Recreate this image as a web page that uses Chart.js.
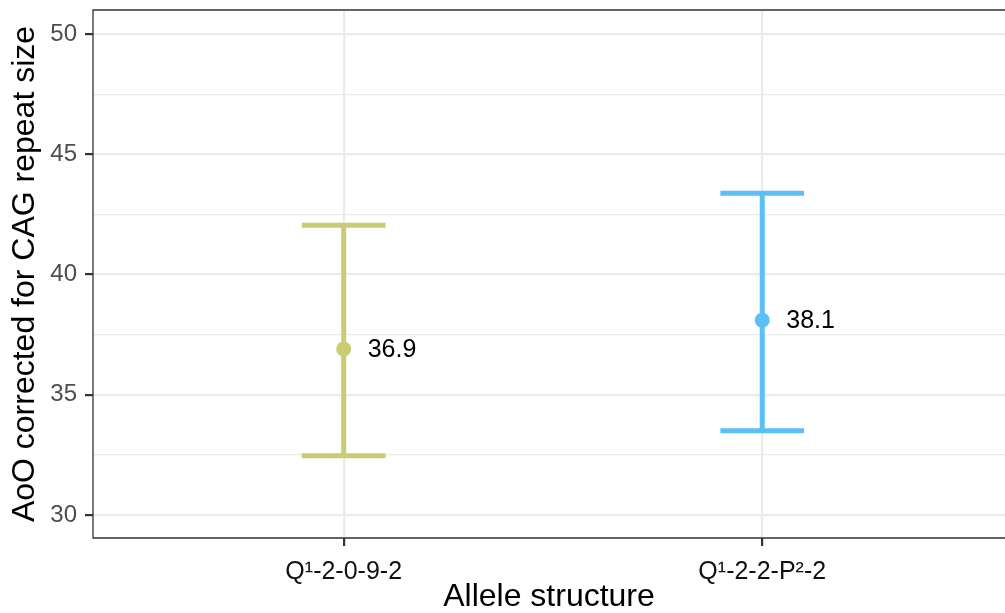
<!DOCTYPE html>
<html lang="en">
  <head>
    <meta charset="UTF-8"/>
    <title>AoO by allele structure</title>
    <style>
      html, body { margin: 0; padding: 0; background: #fff; overflow: hidden; }
    </style>
  </head>
  <body>
  <canvas id="myChart" width="1005" height="613"></canvas>
  <script src="https://cdn.jsdelivr.net/npm/chart.js"></script>
  <script>
    // values
    const categories = ['Q\u00b9-2-0-9-2', 'Q\u00b9-2-2-P\u00b2-2'];
    const means = [36.9, 38.1];
    const lower = [32.46, 33.5];
    const upper = [42.05, 43.38];
    const yMajor = [30, 35, 40, 45, 50];
    const yMinor = [32.5, 37.5, 42.5, 47.5];

    const pointColors = ['#C8CC72', '#5BC0F5'];
    const FONT = "'Liberation Sans', Arial, Helvetica, sans-serif";

    const errorBars = {
      id: 'errorBars',
      beforeDatasetsDraw(chart, args, opts) {
        const {ctx, scales: {x, y}} = chart;
        ctx.save();
        ctx.lineWidth = opts.lineWidth;
        ctx.lineCap = 'butt';
        means.forEach((m, i) => {
          const cx = x.getPixelForValue(i + 1);
          const x0 = x.getPixelForValue(i + 1 - opts.halfWidth);
          const x1 = x.getPixelForValue(i + 1 + opts.halfWidth);
          const yl = y.getPixelForValue(lower[i]);
          const yu = y.getPixelForValue(upper[i]);
          ctx.strokeStyle = pointColors[i];
          ctx.beginPath();
          ctx.moveTo(cx, yl); ctx.lineTo(cx, yu);
          ctx.moveTo(x0, yl); ctx.lineTo(x1, yl);
          ctx.moveTo(x0, yu); ctx.lineTo(x1, yu);
          ctx.stroke();
        });
        ctx.restore();
      },
      afterDatasetsDraw(chart, args, opts) {
        const {ctx, scales: {x, y}} = chart;
        ctx.save();
        ctx.fillStyle = '#000';
        ctx.font = '25px ' + FONT;
        ctx.textAlign = 'left';
        ctx.textBaseline = 'middle';
        means.forEach((m, i) => {
          ctx.fillText(m.toFixed(1), x.getPixelForValue(i + 1) + opts.labelGap, y.getPixelForValue(m) + 1);
        });
        ctx.restore();
      },
      afterDraw(chart) {
        // panel border; the right edge of the panel lies just past the picture
        const {ctx, chartArea: a} = chart;
        ctx.save();
        ctx.strokeStyle = '#333333';
        ctx.lineWidth = 1.3;
        ctx.beginPath();
        ctx.moveTo(chart.width + 2, a.top);
        ctx.lineTo(a.left, a.top);
        ctx.lineTo(a.left, a.bottom);
        ctx.lineTo(chart.width + 2, a.bottom);
        ctx.stroke();
        ctx.restore();
      }
    };

    const config = {
      type: 'scatter',
      data: {
        datasets: [{
          data: means.map((m, i) => ({x: i + 1, y: m})),
          pointBackgroundColor: pointColors,
          pointBorderWidth: 0,
          pointRadius: 7.5,
        }]
      },
      options: {
        responsive: false,
        animation: false,
        layout: { autoPadding: false, padding: { top: 10, right: 0, bottom: 0, left: 0 } },
        plugins: {
          legend: { display: false },
          tooltip: { enabled: false },
          errorBars: { lineWidth: 5, halfWidth: 0.1, labelGap: 24 }
        },
        scales: {
          x: {
            type: 'linear',
            min: 0.401,
            max: 2.58,
            afterFit: (s) => { s.height = 75; s.paddingLeft = 0; s.paddingRight = 0; },
            afterBuildTicks: (s) => { s.ticks = categories.map((c, i) => ({value: i + 1})); },
            ticks: {
              callback: (v) => categories[v - 1],
              font: { family: FONT, size: 25 },
              color: '#111',
              padding: 11,
              maxRotation: 0,
            },
            grid: { color: '#EBEBEB', lineWidth: 2.2, tickColor: '#333333', tickLength: 8 },
            border: { display: false },
            title: {
              display: true,
              text: 'Allele structure',
              color: '#000',
              font: { family: FONT, size: 32, lineHeight: 1 },
              padding: { top: 0, bottom: 0 }
            }
          },
          y: {
            min: 29.04,
            max: 51,
            afterFit: (s) => { s.width = 93; s.paddingTop = 0; s.paddingBottom = 0; },
            afterBuildTicks: (s) => {
              s.ticks = yMajor.concat(yMinor).sort((a, b) => a - b).map(v => ({value: v}));
            },
            ticks: {
              callback: (v) => yMajor.includes(v) ? String(v) : '',
              font: { family: FONT, size: 24 },
              color: '#4D4D4D',
              padding: 8,
            },
            grid: {
              color: '#EBEBEB',
              lineWidth: (c) => yMajor.includes(c.tick && c.tick.value) ? 2.2 : 1.3,
              tickColor: (c) => yMajor.includes(c.tick && c.tick.value) ? '#333333' : 'rgba(0,0,0,0)',
              tickLength: 8,
            },
            border: { display: false },
            title: {
              display: true,
              text: 'AoO corrected for CAG repeat size',
              color: '#000',
              font: { family: FONT, size: 32, lineHeight: 1 },
              padding: { top: 9, bottom: 0 }
            }
          }
        }
      },
      plugins: [errorBars]
    };

    var myChart = new Chart(document.getElementById('myChart'), config);
  </script>
  </body>
</html>
